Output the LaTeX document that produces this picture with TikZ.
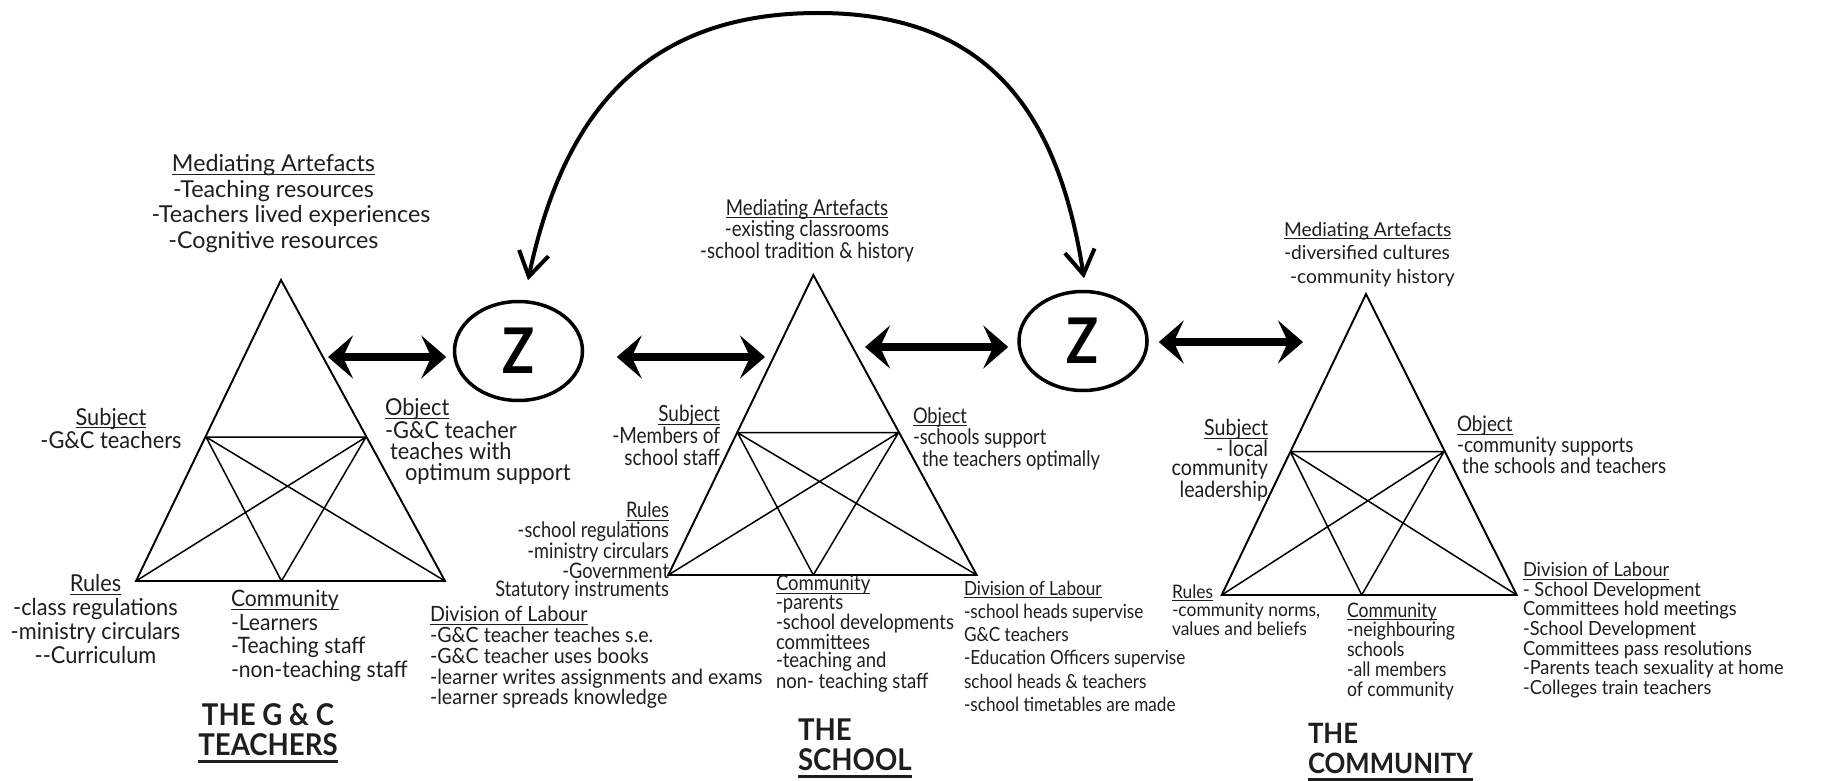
\documentclass[tikz,border=0pt]{standalone}
\usepackage{fontspec}
\setmainfont{Lato}
\usetikzlibrary{arrows.meta,shapes.geometric}
\definecolor{ink}{HTML}{1E1E1E}
\newsavebox\ulbox
% underlined heading: rule at a fixed depth, crossing descenders
\newcommand\udl[1]{\sbox\ulbox{#1}\rlap{\rule[-3.4pt]{\wd\ulbox}{1.1pt}}\usebox\ulbox}
% heavier underline for the system titles
\newcommand\udlt[1]{\sbox\ulbox{#1}\rlap{\rule[-7.6pt]{\wd\ulbox}{2.3pt}}\usebox\ulbox}
\newcommand\fsz[2]{\fontsize{#1}{#2}\selectfont}
% narrower cuts of the text face
\newfontfamily\nrwA{Lato}[FakeStretch=0.935]
\newfontfamily\nrwB{Lato}[FakeStretch=0.85]
\newfontfamily\nrwC{Lato}[FakeStretch=0.88]
\newfontfamily\ttlface{Lato}[FakeStretch=0.92]
\newfontfamily\zface{Lato}[FakeStretch=0.84]

\tikzset{
  lbl/.style={inner sep=0pt, outer sep=0pt, text=ink},
  lft/.style={lbl, align=left, anchor=base west},
  rgt/.style={lbl, align=right, anchor=base east},
  ctr/.style={lbl, align=center, anchor=base},
  ttl/.style={lbl, font=\ttlface\bfseries\fsz{30}{30}},
  tri/.style={line width=1.9pt, line join=miter},
  tricross/.style={line width=1.5pt},
  zell/.style={ellipse, draw, line width=3.5pt, minimum width=128pt,
    minimum height=99pt, inner sep=0pt, font=\zface\bfseries\fsz{63}{63}},
  bigarrow/.style={line width=8pt,
    {Stealth[length=25pt,width=43pt,inset=10pt]}-{Stealth[length=25pt,width=43pt,inset=10pt]}},
  arcarrow/.style={line width=4pt,
    {Straight Barb[length=24pt,width=30pt]}-{Straight Barb[length=24pt,width=30pt]}}
}

\begin{document}
\begin{tikzpicture}[x=1pt,y=1pt]
\fill[white] (0,0) rectangle (1833,-781);
\useasboundingbox (0,0) rectangle (1833,-781);

% ---------- activity system 1: the G&C teachers ----------
\coordinate (A1) at (281,-280);
\coordinate (S1) at (206,-437);
\coordinate (O1) at (366,-437);
\coordinate (R1) at (136,-581);
\coordinate (C1) at (281.5,-581);
\coordinate (D1) at (445,-581);
\draw[tri] (A1) -- (R1) -- (D1) -- cycle;
\draw[tricross] (S1) -- (O1) (S1) -- (C1) (S1) -- (D1) (O1) -- (R1) (O1) -- (C1);

% ---------- activity system 2: the school ----------
\coordinate (A2) at (813.3,-275);
\coordinate (S2) at (737.5,-432.7);
\coordinate (O2) at (898.5,-432.7);
\coordinate (R2) at (668.3,-575);
\coordinate (C2) at (813.3,-575);
\coordinate (D2) at (976.7,-575);
\draw[tri] (A2) -- (R2) -- (D2) -- cycle;
\draw[tricross] (S2) -- (O2) (S2) -- (C2) (S2) -- (D2) (O2) -- (R2) (O2) -- (C2);

% ---------- activity system 3: the community ----------
\coordinate (A3) at (1366,-294);
\coordinate (S3) at (1290.3,-451.7);
\coordinate (O3) at (1444,-451.7);
\coordinate (R3) at (1221.7,-595);
\coordinate (C3) at (1361.7,-595);
\coordinate (D3) at (1516.7,-595);
\draw[tri] (A3) -- (R3) -- (D3) -- cycle;
\draw[tricross] (S3) -- (O3) (S3) -- (C3) (S3) -- (D3) (O3) -- (R3) (O3) -- (C3);

% ---------- shared objects ----------
\node[zell] (z1) at (518.5,-351) {\raisebox{-8pt}{Z}};
\node[zell] (z2) at (1083,-341) {\raisebox{-3.5pt}{Z}};

\coordinate (g1) at (328,-357);
\coordinate (g2) at (765,-357);
\coordinate (g3) at (865,-347);
\coordinate (g4) at (1303,-342);
\coordinate (arctop) at (818,-13);

\draw[bigarrow, shorten >=6.5pt] (g1) -- (g1 -| z1.west);
\draw[bigarrow, shorten <=32.5pt] (z1.east |- g2) -- (g2);
\draw[bigarrow, shorten >=9pt] (g3) -- (g3 -| z2.west);
\draw[bigarrow, shorten <=10pt] (z2.east |- g4) -- (g4);

\draw[arcarrow] ([xshift=9.5pt,yshift=19.5pt]z1.north)
  .. controls +(35,165) and +(-175,0) .. (arctop)
  .. controls +(175,0) and +(-25,160) .. ([xshift=1pt,yshift=11.5pt]z2.north);

% ---------- labels, system 1 (each node sits on its last baseline) ----------
\node[ctr, font=\fsz{23.3}{25.5}] (m1) at (273.5,-248.2)
  {\udl{Mediating Artefacts}\\-Teaching resources\\\hspace*{35pt}-Teachers lived experiences\\-Cognitive resources};
\node[ctr, font=\nrwA\fsz{23.3}{23}] (s1) at (111,-448) {\udl{Subject}\\-G\&C teachers};
\node[lft, font=\nrwA\fsz{23.3}{21}] (o1) at (385,-480)
  {\udl{Object}\\-G\&C teacher\\\hspace*{5pt}teaches with\\\hspace*{20pt}optimum support};
\node[ctr, font=\nrwA\fsz{23.3}{23.8}] (r1) at (95.5,-663.1)
  {\udl{Rules}\\-class regulations\\-ministry circulars\\-{}-Curriculum};
\node[lft, font=\nrwA\fsz{22.6}{23.5}] (c1) at (231,-677.2)
  {\udl{Community}\\-Learners\\-Teaching staff\\-non-teaching staff};
\node[lft, font=\nrwA\fsz{21}{20.8}] (d1) at (430,-704.9)
  {\udl{Division of Labour}\\-G\&C teacher teaches s.e.\\-G\&C teacher uses books\\-learner writes assignments and exams\\-learner spreads knowledge};
\node[ttl, align=center, anchor=base] (h1) at (268,-755) {THE G \& C\\\udlt{TEACHERS}};

% ---------- labels, system 2 ----------
\node[ctr, font=\nrwB\fsz{21.9}{21.5}] (m2) at (807,-258)
  {\udl{Mediating Artefacts}\\-existing classrooms\\-school tradition \& history};
\node[rgt, font=\nrwB\fsz{22.3}{21.7}] (s2) at (720,-465.1)
  {\udl{Subject}\\-Members of\\school staff};
\node[lft, font=\nrwB\fsz{21.5}{21.8}] (o2) at (913,-466.6)
  {\udl{Object}\\-schools support\\\hspace*{9pt}the teachers optimally};
\node[rgt, font=\nrwB\fsz{21.4}{18.4}] (r2) at (669,-596.6)
  {\udl{Rules}\\-school regulations\\-ministry circulars\\-Government\hspace*{5pt}\\Statutory instruments};
\node[lft, font=\nrwC\fsz{21}{18.4}] (c2) at (776,-688)
  {\udl{Community}\\-parents\\-school developments\\committees\\-teaching and\\non- teaching staff};
\node[lft, font=\nrwC\fsz{19.5}{23.3}] (d2) at (964,-711.5)
  {\udl{Division of Labour}\\-school heads supervise\\G\&C teachers\\-Education Officers supervise\\school heads \& teachers\\-school timetables are made};
\node[ttl, align=left, anchor=base west] (h2) at (798,-770) {THE\\\udlt{SCHOOL}};

% ---------- labels, system 3 ----------
\node[lft, font=\fsz{19.2}{23.5}] (m3) at (1284,-283)
  {\udl{Mediating Artefacts}\\-diversified cultures\\\hspace*{6pt}-community history};
\node[rgt, font=\nrwC\fsz{22.3}{19}] (s3) at (1268,-497)
  {\udl{Subject}\\- local\\community\\leadership};
\node[lft, font=\nrwC\fsz{21.4}{20.7}] (o3) at (1457,-473.1)
  {\udl{Object}\\-community supports\\\hspace*{5pt}the schools and teachers};
\node[lft, font=\nrwA\fsz{18.6}{18.5}] (r3) at (1172,-635)
  {\udl{Rules}\\-community norms,\\values and beliefs};
\node[lft, font=\nrwC\fsz{20}{19.8}] (c3) at (1347,-696.2)
  {\udl{Community}\\-neighbouring\\schools\\-all members\\of community};
\node[lft, font=\nrwA\fsz{19.5}{19.6}] (d3) at (1523,-694.3)
  {\udl{Division of Labour}\\- School Development\\Committees hold meetings\\-School Development\\Committees pass resolutions\\-Parents teach sexuality at home\\-Colleges train teachers};
\node[lbl, font=\ttlface\bfseries\fsz{28}{30}, align=left, anchor=base west] (h3) at (1308,-773) {THE\\\udlt{COMMUNITY}};
\end{tikzpicture}
\end{document}
